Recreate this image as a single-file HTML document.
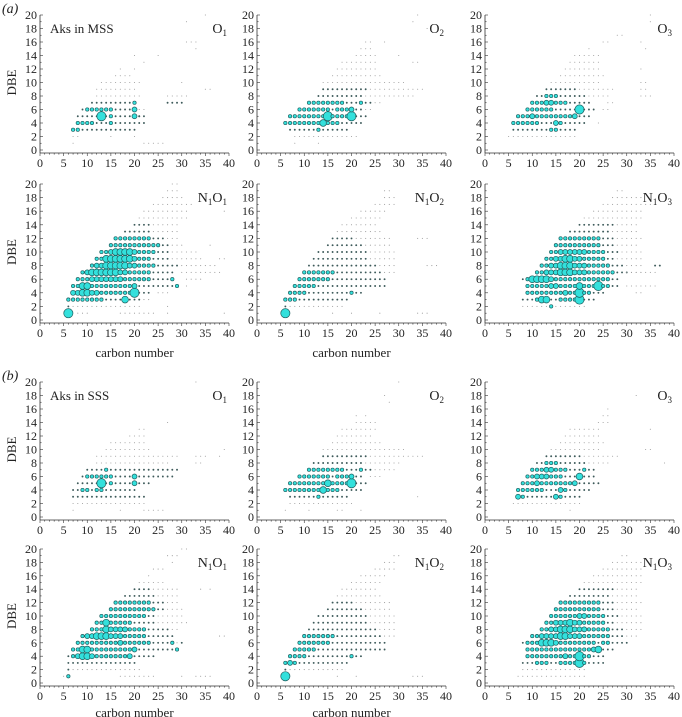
<!DOCTYPE html>
<html><head><meta charset="utf-8">
<style>
html,body{margin:0;padding:0;background:#fff;}
svg{display:block;font-family:"Liberation Serif",serif;}
</style></head>
<body>
<svg id="fig" width="682" height="717" viewBox="0 0 682 717" xmlns="http://www.w3.org/2000/svg"></svg>
<script>
// DBE rows: "dbe,startCarbon,sizeCodes" (0 none,1 tiny,2 dot,3 small circle,4 medium,5 large,6 largest)
const aO1 = ["1,7,1","1,22,11111","2,7,11","2,15,1","2,20,1","3,7,33222222222222","4,8,333322232222222","5,8,22222623222242","5,21,22","6,9,233333322224","6,21,11","7,11,2222222223","7,27,2222","8,12,1111111111","8,27,11111","9,12,111111111","9,35,11","10,13,111111111","10,30,1","11,16,1111","12,17,1","12,20,1","13,22,1","14,20,1","14,25,1","15,33,1","16,31,111","17,39,1","19,31,1","20,35,1"];
const aO2 = ["1,8,1","1,13,1","2,8,11111111111111","3,7,2222223222222","4,6,33333333533322222","5,7,33333333633336222","6,9,33333332333422","6,23,11","7,11,33333333222322","7,25,11","8,13,222222222211111111111","9,14,2222222222111111111111","10,14,111111111111111111","11,16,11111111111","12,17,111111111","13,18,11111111","13,33,11","14,21,11111","14,30,1","15,22,111","16,23,11","16,27,1","18,36,1","19,33,1","20,34,1"];
const aO3 = ["2,5,111111111111111","3,6,22222222332222","4,6,3333332224322222","4,24,1","5,7,3334333333334222","6,9,333333222226222","6,25,11","7,10,3334433322222","7,26,11","8,11,2233322222211111","8,33,111","9,13,222222211111111","9,33,11","10,14,11111111111","10,33,11","11,16,1111111111","12,17,11111111","12,33,1","13,18,1111111","14,19,111111","15,22,1","15,34,1","16,25,11","16,33,1","17,28,11","19,35,1","20,35,1"];
const aN1O1 = ["1,6,6","1,8,111","1,17,11111111","1,27,1","1,39,1","2,6,2111111111111111","2,27,1","3,6,3333333322225","3,19,22211","4,7,44554433333336222","4,25,111","5,7,33553333333334222222223","5,31,1","6,8,333444444433333322223","6,31,1111","7,9,34555555443333322222","7,30,111111111","8,11,344555554433332222211","8,32,111111","9,12,33555555433322221111111","9,38,11","10,13,334555543333222111111","11,15,3333333333322111","11,36,1","12,16,33333333222111","13,18,222222111111","14,20,2222111111","15,21,11111111111","16,22,1111111111","16,39,1","17,24,111111111","18,26,11111","19,27,111","20,28,11"];
const aN1O2 = ["1,6,6","1,16,1","1,20,1","1,26,1","1,34,111","2,6,2111111111111","3,6,33322222222222","4,7,3333222222222322","5,8,33333222222222222222","6,9,3333333222222222222","7,10,33333332222222222111","8,11,2222222222222221111","8,36,111","9,12,222222222222111111","10,13,22222222222111111","11,15,22222222111111","12,16,2222211111111","12,34,111","13,17,1111111111","14,18,11111111","15,20,1111111","16,22,111111","17,25,11111","18,27,111","19,27,11"];
const aN1O3 = ["2,8,11111111111111","2,14,3","3,8,2223552233336222","4,9,33333333433633222","4,32,11","5,9,33333443333533363322","5,30,1111111","6,8,235555433333333333322","7,11,33444555444333333222111","7,30,1111111","8,12,3344555444333332221111","8,36,22","9,13,334455443333322111111","10,14,33444444333322211111","11,15,333333333322211111","12,16,333333333222111111","13,18,222222222111111","14,20,2222222211111","15,21,1111111111111","16,23,11111111111","17,25,111111111111","18,27,1111111","19,28,11"];
const bO1 = ["1,7,1","1,17,1","1,22,11111","2,7,1111111111111111","3,7,2222222222222222","4,7,22332332222222","5,8,2222262322224222","6,9,233333322224","6,21,22222222","7,10,22223222222222","7,24,222222","8,12,1111111111111111","8,33,11","9,12,111111111111111111","9,33,111","9,38,1","10,14,1111111111","10,39,1","11,15,11111111","12,19,1111","13,21,11","14,27,1","20,33,1"];
const bO2 = ["1,6,1","1,11,1","1,17,11","1,22,1","2,7,11111111111111","3,7,2222223222222","3,34,1","4,6,33333333533322222","5,7,33333333533336222","6,9,33333332333422","6,24,111","7,11,33333333222322","7,25,11111","8,12,2222222222211111111","9,14,2222222222111111111111","10,14,111111111111111111","11,16,11111111111","12,17,11111111","13,18,11111111","14,21,11111","15,21,1","15,23,1","17,28,1","18,27,1","20,30,1"];
const bO3 = ["1,18,1","2,6,111111111111111","3,7,43222222432222","4,7,3333332224322222","5,8,33343333333422222","6,9,334443332225222","7,10,33344333222322","8,11,2233322222211111","8,38,1","9,13,2222222211111111","10,14,11111111111","10,34,11","11,16,1111111111","12,17,11111111","13,18,1111111","13,35,1","14,24,111","15,25,11","16,26,1","18,32,1"];
const bN1O1 = ["1,5,13","1,17,11111111","1,30,1","1,33,1111","2,6,2111111111111111","3,6,222222222222222","4,6,2345543333333422222","5,7,33553333333334222222223","6,8,33333333343333332222312","7,9,34455544433333222222","7,38,11","8,11,3335444433332222211","9,12,33533333222221111111","10,13,333333333322111111","11,15,3333333333221111","12,16,33333333222111","13,18,222222211111","14,20,2222111111","14,34,1","14,36,1","15,21,111111","16,23,1","17,24,111","18,28,1","19,27,111","20,30,11"];
const bN1O2 = ["1,6,6","1,17,1","1,21,1","1,33,111","2,6,2111111111111","3,6,34322222222222","4,7,3333222222222322","5,8,33333222222222222222","6,9,3333333222222222222","7,10,33333332222222222111","8,11,2222222222222221111","9,12,222222222222111111","10,13,22222222222111111","11,15,22222222111111","12,16,2222211111111","13,17,1111111111","14,18,11111111","15,20,1111111","16,22,111111","17,25,11111","18,27,111","19,29,11"];
const bN1O3 = ["1,7,111111111111111","2,8,11111111111111","3,8,222333223333632222","4,9,33333333433633222","5,9,3333333333333345222","6,8,23335554333333332332222","7,10,33444455444333333222111","8,12,3344555444333332221111","9,13,334445443333322111111","10,14,33333344333322211111","11,15,333333333322211111","12,16,333333333222111111","13,18,222222222111111","14,20,2222222211111","15,21,1111111111111","16,23,11111111111","17,25,111111111","18,27,1111111","19,29,11"];

const panelData = [aO1,aO2,aO3,aN1O1,aN1O2,aN1O3,bO1,bO2,bO3,bN1O1,bN1O2,bN1O3];
const panelLabels = [["O","1"],["O","2"],["O","3"],["N","1","O","1"],["N","1","O","2"],["N","1","O","3"],["O","1"],["O","2"],["O","3"],["N","1","O","1"],["N","1","O","2"],["N","1","O","3"]];
const panelNames = ["a-o1","a-o2","a-o3","a-n1o1","a-n1o2","a-n1o3","b-o1","b-o2","b-o3","b-n1o1","b-n1o2","b-n1o3"];
const xTicks = [0,5,10,15,20,25,30,35,40];
const yTicks = [0,2,4,6,8,10,12,14,16,18,20];

const NS = "http://www.w3.org/2000/svg";
const svg = document.getElementById('fig');
const colX = [40,257,485];
const rowY = [[15,150],[184,320],[382,517],[549,683]];
const W = 189;
const radius = [0,0.55,0.95,1.7,2.5,3.4,4.6];

function mk(tag, attrs, parent){
  const e = document.createElementNS(NS, tag);
  for (const k in attrs) e.setAttribute(k, attrs[k]);
  (parent||svg).appendChild(e);
  return e;
}

panelData.forEach((rows, p) => {
  const x0 = colX[p%3];
  const yr = rowY[Math.floor(p/3)];
  const yTop = yr[0], yBot = yr[1];
  const sx = c => x0 + c/40*W;
  const sy = d => yBot - d/20*(yBot-yTop);
  const g = mk('g', {});
  
  
  const ax = mk('path', {d:`M${x0},${yTop} V${yBot+3} M${x0},${yBot+3} H${x0+W}`, stroke:'#333', 'stroke-width':0.8, fill:'none'}, g);
  
  
  for (let c=0;c<=40;c++){
    const len = c%5===0?3:1.6;
    mk('line',{x1:sx(c),x2:sx(c),y1:yBot+3,y2:yBot+3+len,stroke:'#333','stroke-width':0.6},g);
  }
  for (let d=0; d<=20; d++){
    const len = d%2===0?3:1.6;
    mk('line',{x1:x0,x2:x0+len,y1:sy(d),y2:sy(d),stroke:'#333','stroke-width':0.6},g);
  }
  xTicks.forEach(v=>{
    const t = mk('text',{x:sx(v),y:yBot+17,'text-anchor':'middle','font-size':12,fill:'#222'},g);
    t.textContent = v;
    
    
  });
  yTicks.forEach(v=>{
    const t = mk('text',{x:x0-3,y:sy(v)+4,'text-anchor':'end','font-size':12,fill:'#222'},g);
    t.textContent = v;
    
    
  });
  rows.forEach(r=>{
    const parts = r.split(',');
    const d = +parts[0], c0 = +parts[1], codes = parts[2];
    for (let i=0;i<codes.length;i++){
      const s = +codes[i];
      if (!s) continue;
      const c = c0+i;
      let el;
      if (s===1) el = mk('circle',{cx:sx(c),cy:sy(d),r:radius[1],fill:'#999'},g);
      else if (s===2) el = mk('circle',{cx:sx(c),cy:sy(d),r:radius[2],fill:'#3d5a5a'},g);
      else el = mk('circle',{cx:sx(c),cy:sy(d),r:radius[s],fill:'#33e0dc',stroke:'#1f5f5f','stroke-width':0.7},g);
      
      
    }
  });
  const lab = panelLabels[p];
  const lt = mk('text',{x:x0+W-2,y:yTop+18,'text-anchor':'end','font-size':14,fill:'#222'},g);
  
  
  lab.forEach((s,i)=>{
    const ts = mk('tspan',{},lt);
    if (i%2===1){ ts.setAttribute('font-size',9); ts.setAttribute('dy',3);} 
    else if (i>0){ ts.setAttribute('dy',-3);} 
    ts.textContent = s;
  });
  if (p%3===0){
    const yl = mk('text',{x:0,y:0,'text-anchor':'middle','font-size':13,fill:'#222',transform:`translate(16,${(yTop+yBot)/2}) rotate(-90)`},g);
    yl.textContent = 'DBE';
    
    
  }
  if (p===0 || p===6){
    const tl = mk('text',{x:x0+10,y:yTop+18,'font-size':13,fill:'#222'},g);
    tl.textContent = p===0?'Aks in MSS':'Aks in SSS';
    
    
  }
  if (p===3 || p===4 || p===9 || p===10){
    const xl = mk('text',{x:x0+W/2,y:yBot+(p<6?37:34),'text-anchor':'middle','font-size':13,fill:'#222'},g);
    xl.textContent = 'carbon number';
    
    
  }
});
const pa = mk('text',{x:2,y:13,'font-size':14,'font-style':'italic',fill:'#222'});
pa.textContent = '(a)';


const pb = mk('text',{x:2,y:380,'font-size':14,'font-style':'italic',fill:'#222'});
pb.textContent = '(b)';


</script>
</body></html>
